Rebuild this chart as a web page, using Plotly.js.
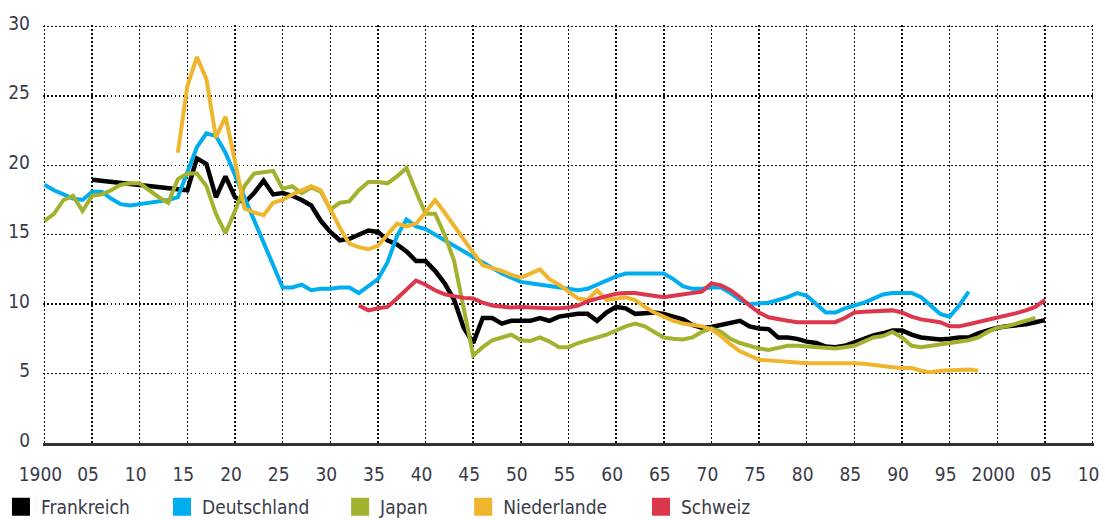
<!DOCTYPE html>
<html>
<head>
<meta charset="utf-8">
<script src="https://cdn.plot.ly/plotly-3.0.1.min.js"></script>
<style>html,body{margin:0;padding:0;background:#fff;}#chart{width:1105px;height:520px;}</style>
</head>
<body>
<div id="chart"></div>
<script>
// ---- Data ----
const seriesNames = ["Frankreich", "Deutschland", "Japan", "Niederlande", "Schweiz"];

const frYears = [1905,1914,1915,1916,1917,1918,1919,1920,1921,1922,1923,1924,1925,1926,1927,1928,1929,1930,1931,1932,1933,1934,1935,1936,1937,1938,1939,1940,1941,1942,1943,1944,1945,1946,1947,1948,1949,1950,1951,1952,1953,1954,1955,1956,1957,1958,1959,1960,1961,1962,1963,1964,1965,1966,1967,1968,1969,1970,1971,1972,1973,1974,1975,1976,1977,1978,1979,1980,1981,1982,1983,1984,1985,1986,1987,1988,1989,1990,1991,1992,1993,1994,1995,1996,1997,1998,1999,2000,2001,2002,2003,2004,2005];
const frValues = [18.95,18.3,18.2,20.5,20.1,17.7,19.2,17.7,17.3,18.0,18.9,17.9,18.0,17.8,17.5,17.1,16.0,15.2,14.6,14.7,15.0,15.3,15.2,14.6,14.3,13.8,13.1,13.1,12.4,11.5,10.3,8.3,7.2,9.0,9.0,8.6,8.8,8.8,8.8,9.0,8.8,9.1,9.2,9.3,9.3,8.8,9.4,9.8,9.7,9.3,9.35,9.4,9.3,9.1,8.9,8.5,8.3,8.35,8.5,8.6,8.8,8.4,8.25,8.2,7.6,7.6,7.5,7.3,7.2,6.95,6.9,7.0,7.25,7.5,7.75,7.9,8.1,8.1,7.8,7.6,7.5,7.45,7.5,7.6,7.6,7.9,8.1,8.3,8.4,8.45,8.55,8.7,8.85];

const deYears = [1900,1901,1902,1903,1904,1905,1906,1907,1908,1909,1910,1911,1912,1913,1914,1915,1916,1917,1918,1919,1920,1921,1922,1923,1924,1925,1926,1927,1928,1929,1930,1931,1932,1933,1934,1935,1936,1937,1938,1939,1940,1941,1942,1943,1944,1945,1946,1947,1948,1949,1950,1951,1952,1953,1954,1955,1956,1957,1958,1959,1960,1961,1962,1963,1964,1965,1966,1967,1968,1969,1970,1971,1972,1973,1974,1975,1976,1977,1978,1979,1980,1981,1982,1983,1984,1985,1986,1987,1988,1989,1990,1991,1992,1993,1994,1995,1996,1997];
const deValues = [18.6,18.2,17.9,17.6,17.5,18.1,18.1,17.6,17.2,17.1,17.2,17.3,17.4,17.5,17.7,19.5,21.3,22.3,22.1,20.9,19.3,17.7,16.1,14.5,12.8,11.2,11.2,11.4,11.0,11.1,11.1,11.2,11.2,10.8,11.3,11.8,13.0,14.9,16.1,15.6,15.4,15.0,14.6,14.2,13.8,13.4,13.0,12.6,12.2,11.9,11.6,11.5,11.4,11.3,11.2,11.15,11.0,11.1,11.4,11.7,12.0,12.2,12.2,12.2,12.2,12.2,11.8,11.3,11.1,11.1,11.2,11.2,10.8,10.3,10.0,10.05,10.1,10.3,10.5,10.8,10.6,10.0,9.4,9.4,9.7,9.9,10.1,10.4,10.7,10.8,10.8,10.8,10.5,9.9,9.3,9.1,9.9,10.9];

const jpYears = [1900,1901,1902,1903,1904,1905,1906,1907,1908,1909,1910,1911,1912,1913,1914,1915,1916,1917,1918,1919,1920,1921,1922,1923,1924,1925,1926,1927,1928,1929,1930,1931,1932,1933,1934,1935,1936,1937,1938,1939,1940,1941,1942,1943,1944,1945,1946,1947,1948,1949,1950,1951,1952,1953,1954,1955,1956,1957,1958,1959,1960,1961,1962,1963,1964,1965,1966,1967,1968,1969,1970,1971,1972,1973,1974,1975,1976,1977,1978,1979,1980,1981,1982,1983,1984,1985,1986,1987,1988,1989,1990,1991,1992,1993,1994,1995,1996,1997,1998,1999,2000,2001,2002,2003,2004];
const jpValues = [16.0,16.5,17.5,17.8,16.7,17.8,17.9,18.2,18.6,18.7,18.7,18.2,17.7,17.3,19.0,19.4,19.4,18.5,16.5,15.1,16.7,18.5,19.4,19.5,19.6,18.3,18.5,18.0,18.4,18.1,16.8,17.3,17.4,18.2,18.8,18.8,18.7,19.2,19.8,18.1,16.5,16.5,15.0,13.1,9.6,6.3,6.9,7.4,7.6,7.8,7.4,7.35,7.6,7.3,6.9,6.9,7.2,7.4,7.6,7.8,8.1,8.4,8.6,8.4,8.0,7.6,7.5,7.45,7.6,8.0,8.25,8.0,7.5,7.2,7.0,6.8,6.7,6.85,7.0,7.0,6.95,6.9,6.85,6.8,6.9,7.0,7.3,7.6,7.7,8.0,7.6,7.0,6.9,7.0,7.05,7.2,7.25,7.4,7.6,8.0,8.3,8.4,8.6,8.8,9.0];

const nlYears = [1914,1915,1916,1917,1918,1919,1920,1921,1922,1923,1924,1925,1926,1927,1928,1929,1930,1931,1932,1933,1934,1935,1936,1937,1938,1939,1940,1941,1942,1943,1944,1945,1946,1947,1948,1949,1950,1951,1952,1953,1954,1955,1956,1957,1958,1959,1960,1961,1962,1963,1964,1965,1966,1967,1968,1969,1970,1971,1972,1973,1974,1975,1976,1977,1978,1979,1980,1981,1982,1983,1984,1985,1986,1987,1988,1989,1990,1991,1992,1993,1994,1995,1996,1997,1998];
const nlValues = [20.9,25.7,27.8,26.2,22.0,23.5,20.3,16.9,16.6,16.4,17.3,17.5,17.9,18.2,18.5,18.2,16.8,15.5,14.35,14.1,13.95,14.2,15.0,15.8,15.6,15.8,16.6,17.5,16.6,15.6,14.7,13.7,12.8,12.6,12.4,12.1,11.9,12.2,12.5,11.8,11.4,10.9,10.4,10.3,11.0,10.3,10.4,10.5,10.3,9.8,9.4,9.1,8.8,8.6,8.5,8.4,8.2,7.7,7.1,6.6,6.3,6.0,5.95,5.9,5.8,5.75,5.75,5.75,5.75,5.8,5.8,5.75,5.7,5.6,5.5,5.45,5.4,5.4,5.2,5.1,5.2,5.25,5.25,5.3,5.2];

const chYears = [1933,1934,1935,1936,1937,1938,1939,1940,1941,1942,1943,1944,1945,1946,1947,1948,1949,1950,1951,1952,1953,1954,1955,1956,1957,1958,1959,1960,1961,1962,1963,1964,1965,1966,1967,1968,1969,1970,1971,1972,1973,1974,1975,1976,1977,1978,1979,1980,1981,1982,1983,1984,1985,1986,1987,1988,1989,1990,1991,1992,1993,1994,1995,1996,1997,1998,1999,2000,2001,2002,2003,2004,2005];
const chValues = [9.9,9.55,9.7,9.8,10.4,11.1,11.7,11.4,11.0,10.7,10.55,10.45,10.4,10.1,9.9,9.8,9.75,9.8,9.75,9.7,9.7,9.7,9.75,9.9,10.2,10.4,10.6,10.75,10.8,10.8,10.7,10.6,10.5,10.6,10.7,10.8,10.9,11.5,11.35,11.0,10.5,9.9,9.4,9.05,8.9,8.8,8.7,8.7,8.7,8.7,8.7,9.0,9.4,9.45,9.5,9.5,9.55,9.4,9.1,8.9,8.8,8.7,8.4,8.4,8.55,8.7,8.85,9.0,9.15,9.35,9.55,9.8,10.3];

const xTickVals = [1900,1905,1910,1915,1920,1925,1930,1935,1940,1945,1950,1955,1960,1965,1970,1975,1980,1985,1990,1995,2000,2005,2010];
const xTickText = ["1900","05","10","15","20","25","30","35","40","45","50","55","60","65","70","75","80","85","90","95","2000","05","10"];
const yTickVals = [0,5,10,15,20,25,30];

// ---- Styling ----
const colors = ["#000000", "#00aeef", "#a3b12f", "#efb52c", "#dc374c"];
const widths = [4.5, 4, 4, 4, 4];
const FONT = "'Liberation Sans Narrow', 'DejaVu Sans Condensed', 'Arial Narrow', sans-serif";
const FS = 19;
const TXT = "#3a3a48";

const xs = [frYears, deYears, jpYears, nlYears, chYears];
const ys = [frValues, deValues, jpValues, nlValues, chValues];
const legendIds = ["legend", "legend2", "legend3", "legend4", "legend5"];

const traces = [];
for (let i = 0; i < seriesNames.length; i++) {
  traces.push({
    type: "scatter", mode: "lines", x: xs[i], y: ys[i], name: seriesNames[i],
    line: {color: colors[i], width: widths[i], shape: "linear"},
    showlegend: false, hoverinfo: "skip"
  });
}
for (let i = 0; i < seriesNames.length; i++) {
  traces.push({
    type: "scatter", mode: "markers", x: [null], y: [null], name: seriesNames[i],
    marker: {symbol: "square", size: 16, color: colors[i], line: {color: colors[i], width: 2}},
    showlegend: true, legend: legendIds[i], hoverinfo: "skip"
  });
}

const legendX = [-0.040, 0.1132, 0.2827, 0.3998, 0.5690];
const layout = {
  width: 1105, height: 520,
  margin: {l: 43, r: 11, t: 25, b: 77, pad: 0, autoexpand: false},
  paper_bgcolor: "#ffffff", plot_bgcolor: "#ffffff",
  font: {family: FONT, size: FS, color: TXT},
  showlegend: true,
  xaxis: {
    range: [1899.85, 2010.15], tickmode: "array", tickvals: xTickVals, ticktext: xTickText,
    showgrid: true, gridcolor: "#111111", gridwidth: 1.5, griddash: "1.5px,2.5px",
    zeroline: false, showline: true, linecolor: "#333333", linewidth: 2.5,
    ticks: "", ticklabelstandoff: 13, ticklabelshift: -4, automargin: false,
    tickfont: {family: FONT, size: FS, color: TXT}, fixedrange: true
  },
  yaxis: {
    range: [0, 30.1], tickmode: "array", tickvals: yTickVals,
    showgrid: true, gridcolor: "#111111", gridwidth: 1.5, griddash: "1.5px,2.5px",
    zeroline: false, showline: false, ticks: "", ticklabelstandoff: 12, ticklabelshift: -3,
    automargin: false,
    tickfont: {family: FONT, size: FS, color: TXT}, fixedrange: true
  }
};
legendIds.forEach((id, i) => {
  layout[id] = {
    x: legendX[i], xanchor: "left", y: -0.153, yanchor: "middle",
    orientation: "h", bgcolor: "rgba(0,0,0,0)", borderwidth: 0,
    font: {family: FONT, size: FS, color: TXT}, itemclick: false, itemdoubleclick: false
  };
});

Plotly.newPlot("chart", traces, layout, {displayModeBar: false, staticPlot: true});
</script>
</body>
</html>
